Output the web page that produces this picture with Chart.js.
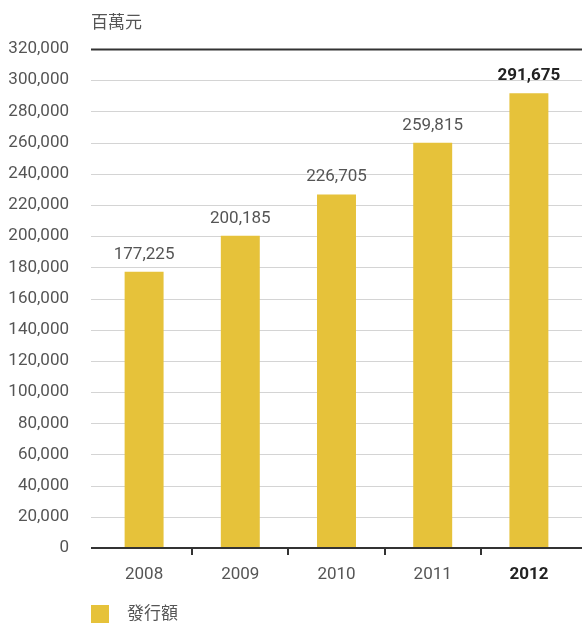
<!DOCTYPE html>
<html>
<head>
<meta charset="utf-8">
<script src="https://cdn.jsdelivr.net/npm/chart.js@4/dist/chart.umd.min.js"></script>
<style>
  body { margin: 0; background: #fff; }
  #box { width: 582px; height: 625px; position: relative; }
</style>
</head>
<body>
<div id="box"><canvas id="grafico"></canvas></div>
<script>
// dados
let anos = ['2008', '2009', '2010', '2011', '2012']
let emissao = [177225, 200185, 226705, 259815, 291675]
let unidade = '百萬元'
let legenda = '發行額'

let amarelo = '#e6c23a'
let fonte = 'Roboto, "Noto Sans CJK TC", sans-serif'

function fmt(v) {
    return v.toLocaleString('en-US')
}

// linhas de grade, titulo, rotulos e legenda
let extras = {
    id: 'extras',
    beforeDatasetsDraw(chart) {
        let ctx = chart.ctx
        let area = chart.chartArea
        let y = chart.scales.y
        ctx.save()
        y.ticks.forEach(function(t, i) {
            let py = Math.round(y.getPixelForValue(t.value)) + 0.5
            ctx.beginPath()
            if (i == y.ticks.length - 1) {
                ctx.strokeStyle = '#333'
                ctx.lineWidth = 2
            } else if (t.value == 0) {
                return
            } else {
                ctx.strokeStyle = '#d4d4d4'
                ctx.lineWidth = 1
            }
            ctx.moveTo(area.left - 5, py)
            ctx.lineTo(area.right + 5, py)
            ctx.stroke()
        })
        ctx.restore()
    },
    afterDatasetsDraw(chart) {
        let ctx = chart.ctx
        let area = chart.chartArea
        let meta = chart.getDatasetMeta(0)
        ctx.save()
        // eixo x
        ctx.strokeStyle = '#333'
        ctx.lineWidth = 2
        ctx.beginPath()
        ctx.moveTo(area.left - 5, area.bottom)
        ctx.lineTo(area.right + 5, area.bottom)
        ctx.stroke()

        // valores em cima das barras
        ctx.textAlign = 'center'
        ctx.textBaseline = 'alphabetic'
        meta.data.forEach(function(bar, i) {
            let ultimo = i == meta.data.length - 1
            ctx.font = (ultimo ? 'bold ' : '') + '17px ' + fonte
            ctx.fillStyle = ultimo ? '#222' : '#555'
            ctx.fillText(fmt(emissao[i]), bar.x, bar.y - 13)
        })

        // unidade
        ctx.textAlign = 'left'
        ctx.font = '17px ' + fonte
        ctx.fillStyle = '#555'
        ctx.fillText(unidade, area.left - 5, 28)

        // legenda
        ctx.fillStyle = amarelo
        ctx.fillRect(area.left - 5, 605, 18, 18)
        ctx.fillStyle = '#555'
        ctx.textBaseline = 'middle'
        ctx.fillText(legenda, area.left + 31, 615)
        ctx.restore()
    }
}

let ctx = document.getElementById('grafico')
let grafico = new Chart(ctx, {
    type: 'bar',
    data: {
        labels: anos,
        datasets: [{
            label: legenda,
            data: emissao,
            backgroundColor: amarelo,
            barPercentage: 0.405,
            categoryPercentage: 1
        }]
    },
    options: {
        responsive: true,
        maintainAspectRatio: false,
        animation: false,
        layout: { padding: { top: 49, right: 5, bottom: 0, left: 0 } },
        plugins: {
            legend: { display: false },
            tooltip: { enabled: false }
        },
        scales: {
            x: {
                border: { display: false },
                grid: {
                    offset: true,
                    drawOnChartArea: false,
                    drawTicks: true,
                    tickLength: 7,
                    lineWidth: 2,
                    color: function(c) {
                        // so os tracos entre as categorias
                        if (c.index == null || c.index == 0 || c.index >= anos.length) return 'rgba(0,0,0,0)'
                        return '#333'
                    }
                },
                ticks: {
                    padding: 10,
                    color: function(c) { return c.index == anos.length - 1 ? '#222' : '#555' },
                    font: function(c) {
                        return { family: fonte, size: 17, weight: c.index == anos.length - 1 ? 'bold' : 'normal' }
                    }
                },
                afterFit: function(s) { s.height = 77 }
            },
            y: {
                min: 0,
                max: 320000,
                border: { display: false },
                grid: { display: false },
                ticks: {
                    stepSize: 20000,
                    padding: 19,
                    color: '#555',
                    font: { family: fonte, size: 17 },
                    callback: function(v) { return fmt(v) }
                },
                afterFit: function(s) { s.width = 96 }
            }
        }
    },
    plugins: [extras]
})
</script>
</body>
</html>
